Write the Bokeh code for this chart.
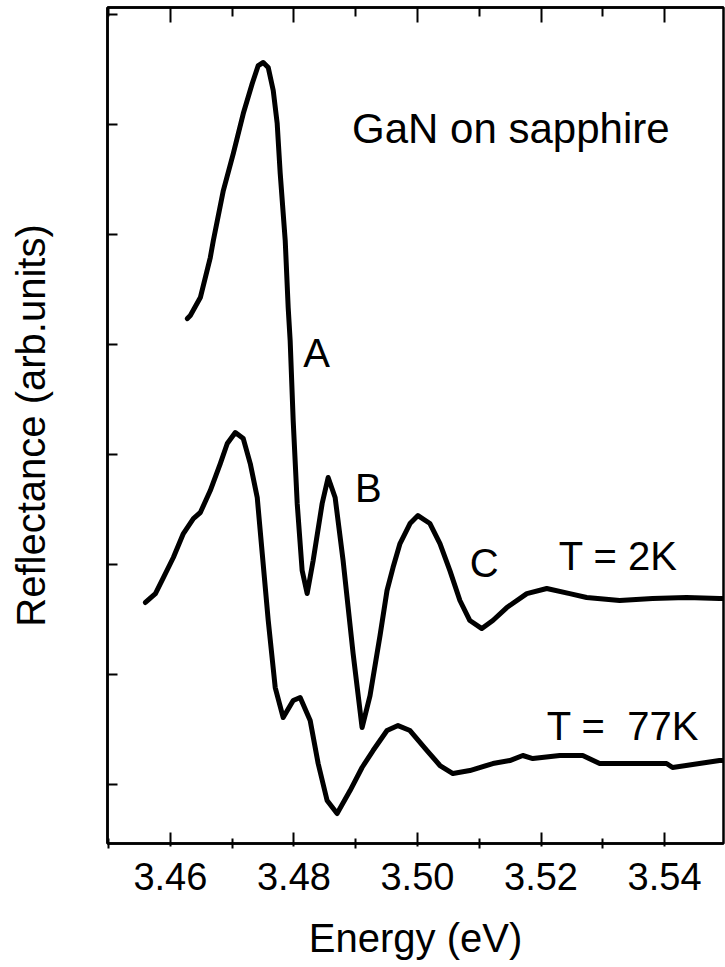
from bokeh.plotting import figure
from bokeh.models import (FixedTicker, LinearAxis, Label, PrintfTickFormatter,
                          CustomJSTickFormatter, Range1d)
from bokeh.embed import file_html
from bokeh.resources import INLINE

# ---- data ----
energy_2k = [3.46275, 3.46323, 3.46485, 3.46646, 3.46695, 3.46857, 3.47018, 3.47180,
             3.47325, 3.47422, 3.47503, 3.47584, 3.47665, 3.47729, 3.47778, 3.47859,
             3.47907, 3.47939, 3.47988, 3.48053, 3.48133, 3.48214, 3.48311, 3.48457,
             3.48554, 3.48667, 3.48796, 3.48958, 3.49103, 3.49232, 3.49394, 3.49507,
             3.49604, 3.49717, 3.49879, 3.50008, 3.50202, 3.50364, 3.50525, 3.50687,
             3.50848, 3.51042, 3.51220, 3.51446, 3.51770, 3.52093, 3.52465, 3.52739,
             3.53273, 3.53806, 3.54356, 3.54889, 3.54954]
refl_2k = [4.236, 4.264, 4.427, 4.791, 4.945, 5.400, 5.736, 6.100,
           6.373, 6.536, 6.564, 6.518, 6.309, 6.009, 5.555, 4.945,
           4.336, 4.036, 3.309, 2.555, 1.945, 1.736, 2.036, 2.555,
           2.791, 2.609, 2.036, 1.191, 0.518, 0.809, 1.355, 1.764,
           1.973, 2.191, 2.373, 2.445, 2.373, 2.191, 1.945, 1.673,
           1.491, 1.418, 1.491, 1.609, 1.736, 1.782, 1.736, 1.700,
           1.673, 1.691, 1.700, 1.691, 1.691]

energy_77k = [3.45596, 3.45758, 3.45887, 3.46048, 3.46210, 3.46372, 3.46485, 3.46646,
              3.46808, 3.46921, 3.47051, 3.47180, 3.47293, 3.47406, 3.47487, 3.47584,
              3.47697, 3.47826, 3.47988, 3.48101, 3.48263, 3.48392, 3.48537, 3.48699,
              3.48909, 3.49103, 3.49281, 3.49507, 3.49685, 3.49879, 3.50154, 3.50364,
              3.50574, 3.50848, 3.51220, 3.51495, 3.51705, 3.51867, 3.52303, 3.52675,
              3.52949, 3.54032, 3.54129, 3.54889, 3.54954]
refl_77k = [1.655, 1.736, 1.882, 2.064, 2.282, 2.418, 2.473, 2.673,
            2.918, 3.100, 3.200, 3.145, 2.918, 2.609, 2.100, 1.491,
            0.882, 0.609, 0.764, 0.791, 0.582, 0.191, -0.145, -0.264,
            -0.055, 0.155, 0.309, 0.491, 0.536, 0.491, 0.309, 0.173,
            0.100, 0.127, 0.191, 0.218, 0.264, 0.236, 0.264, 0.264,
            0.191, 0.191, 0.155, 0.218, 0.218]

x_major_ticks = [3.46, 3.48, 3.50, 3.52, 3.54]
x_minor_ticks = [3.45, 3.47, 3.49, 3.51, 3.53, 3.55]
y_ticks = [0, 1, 2, 3, 4, 5, 6, 7]

FONT = "Liberation Sans"

p = figure(width=725, height=967, output_backend="svg", toolbar_location=None,
           x_range=Range1d(3.44982, 3.54954), y_range=Range1d(-0.536, 7.064),
           min_border_left=107, min_border_right=2, min_border_top=7,
           min_border_bottom=124)
p.background_fill_color = "white"
p.border_fill_color = "white"
p.grid.visible = False
p.outline_line_color = "black"
p.outline_line_width = 2.5

# bottom axis
xa = p.xaxis[0]
xa.ticker = FixedTicker(ticks=x_major_ticks, minor_ticks=x_minor_ticks)
xa.formatter = PrintfTickFormatter(format="%.2f")
xa.major_tick_in = 11
xa.major_tick_out = 3
xa.minor_tick_in = 5
xa.minor_tick_out = 5
xa.major_tick_line_width = 2
xa.minor_tick_line_width = 2
xa.major_tick_line_color = "black"
xa.minor_tick_line_color = "black"
xa.axis_line_color = "black"
xa.axis_line_width = 2.5
xa.major_label_text_font = FONT
xa.major_label_text_font_size = "38px"
xa.major_label_text_color = "black"
xa.major_label_standoff = 14
xa.axis_label = "Energy (eV)"
xa.axis_label_text_font = FONT
xa.axis_label_text_font_size = "40px"
xa.axis_label_text_font_style = "normal"
xa.axis_label_text_color = "black"
xa.axis_label_standoff = 23

# left axis
ya = p.yaxis[0]
ya.ticker = FixedTicker(ticks=y_ticks, minor_ticks=[])
ya.formatter = CustomJSTickFormatter(code="return ''")
ya.major_tick_in = 10
ya.major_tick_out = 0
ya.minor_tick_in = 0
ya.minor_tick_out = 0
ya.major_tick_line_width = 2
ya.major_tick_line_color = "black"
ya.axis_line_color = "black"
ya.axis_line_width = 2.5
ya.major_label_standoff = 0
ya.axis_label = "Reflectance (arb.units)"
ya.axis_label_text_font = FONT
ya.axis_label_text_font_size = "40px"
ya.axis_label_text_font_style = "normal"
ya.axis_label_text_color = "black"
ya.axis_label_standoff = 55

# top axis with inward ticks
top = LinearAxis(ticker=FixedTicker(ticks=x_major_ticks, minor_ticks=x_minor_ticks),
                 formatter=CustomJSTickFormatter(code="return ''"),
                 major_tick_in=15, major_tick_out=0, minor_tick_in=9, minor_tick_out=0,
                 major_tick_line_width=2, minor_tick_line_width=2,
                 major_tick_line_color="black", minor_tick_line_color="black",
                 axis_line_color="black", axis_line_width=2.5,
                 major_label_standoff=0)
p.add_layout(top, "above")

p.line(energy_2k, refl_2k, line_color="black", line_width=5, line_join="round",
       line_cap="round")
p.line(energy_77k, refl_77k, line_color="black", line_width=5, line_join="round",
       line_cap="round")

def lab(x, y, text, size):
    p.add_layout(Label(x=x, y=y, text=text, text_font=FONT, text_font_size=size,
                       text_color="black", text_align="left",
                       text_baseline="alphabetic"))

lab(3.48941, 5.964, "GaN on sapphire", "42px")
lab(3.48149, 3.927, "A", "40px")
lab(3.48990, 2.700, "B", "40px")
lab(3.50848, 2.018, "C", "40px")
lab(3.52287, 2.082, "T = 2K", "40px")
lab(3.52093, 0.536, "T = \u00a077K", "40px")

open("out.html", "w").write(file_html(p, INLINE))
